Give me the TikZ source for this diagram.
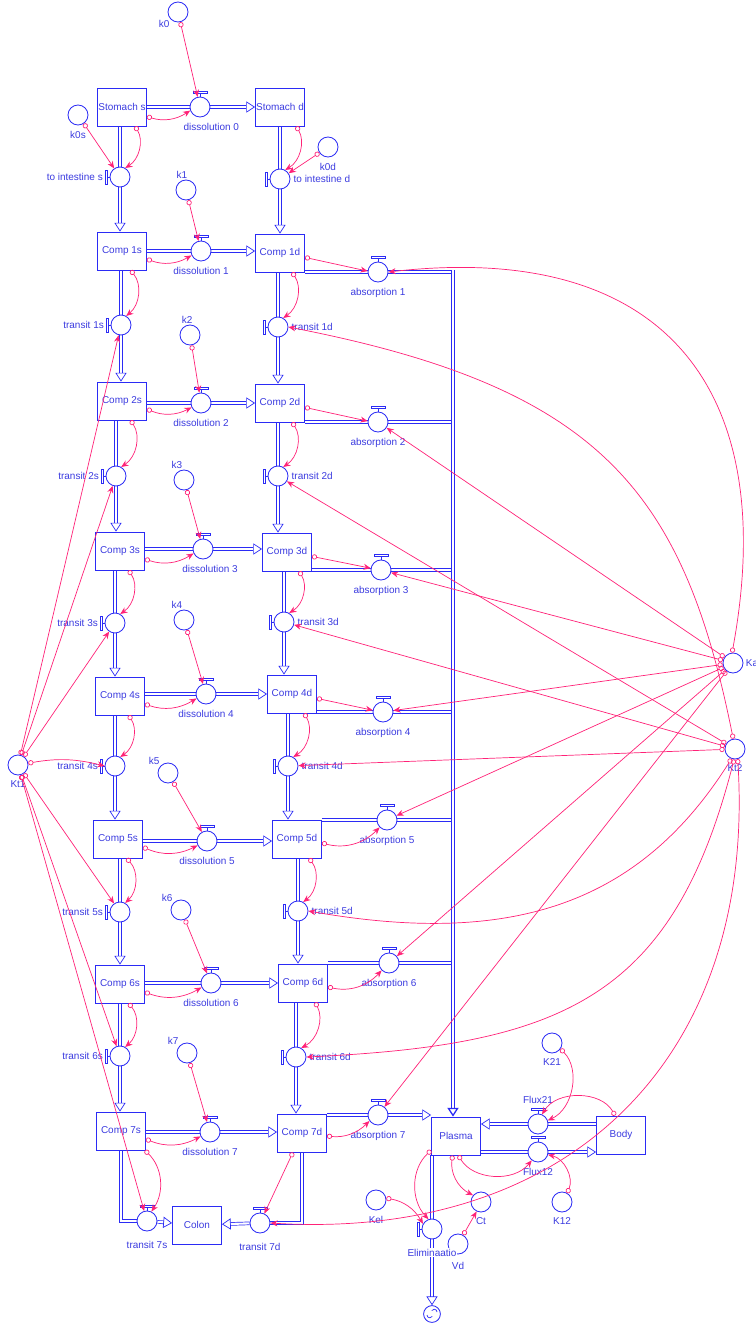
\documentclass[tikz,border=0pt]{standalone}
\usepackage{fontspec}
\newfontfamily\diagfont{Liberation Sans}
\usepackage{xcolor}
\definecolor{flowblue}{HTML}{2B2BF5}
\definecolor{tagblue}{HTML}{3B3BE0}
\definecolor{linkpink}{HTML}{FF2277}
\usetikzlibrary{arrows.meta,calc}
\newcommand{\tagfont}{\diagfont\fontsize{7.1}{8.5}\selectfont}
\pgfdeclarelayer{pipes}
\pgfsetlayers{pipes,main}
\tikzset{
  stock/.style={draw=flowblue, line width=0.6pt, fill=white, minimum width=1.225cm, minimum height=0.95cm, inner sep=0pt, text=tagblue, font=\tagfont},
  valve/.style={circle, draw=flowblue, line width=0.6pt, fill=white, minimum size=0.5cm, inner sep=0pt},
  aux/.style={valve},
  sinkc/.style={circle, draw=flowblue, line width=0.6pt, fill=white, minimum size=0.42cm, inner sep=0pt},
  tag/.style={text=tagblue, font=\tagfont, inner sep=0.6pt, fill=white},
  tagL/.style={label={[tag, label distance=4pt]left:#1}},
  tagR/.style={label={[tag, label distance=1.5pt]right:#1}},
  tagB/.style={label={[tag, label distance=3pt]below:#1}},
  tagA/.style={label={[tag, label distance=1pt]above:#1}},
  pipe/.style={draw=flowblue, line width=0.5pt, double=white, double distance=1.5pt},
  pipeto/.style={pipe, -{Triangle[open, length=2.2mm, width=2.8mm]}},
  link/.style={draw=linkpink, line width=0.5pt, {Circle[open, length=1.3mm]}-{Stealth[length=1.8mm, width=1.5mm]}},
  hdl/.style={draw=flowblue, line width=0.5pt, fill=white},
}
% valve handles
\newcommand{\tophandle}[1]{\draw[hdl] ([shift={(0,-10)}]#1.center) -- ([shift={(0,-14)}]#1.center);
  \draw[hdl] ([shift={(-7,-16)}]#1.center) rectangle ([shift={(7,-14)}]#1.center);}
\newcommand{\lefthandle}[1]{\draw[hdl] ([shift={(-10,0)}]#1.center) -- ([shift={(-13,0)}]#1.center);
  \draw[hdl] ([shift={(-15,-7)}]#1.center) rectangle ([shift={(-13,7)}]#1.center);}

\begin{document}
\begin{tikzpicture}[x=0.025cm, y=-0.025cm]
  \useasboundingbox (0,0) rectangle (756,1324);

  % stocks
  \node[stock] (Ss) at (122,107) {Stomach s};
  \node[stock] (Sd) at (280,107) {Stomach d};
  \node[stock] (C1s) at (122,251) {Comp 1s};
  \node[stock] (C1d) at (280,253) {Comp 1d};
  \node[stock] (C2s) at (122,401) {Comp 2s};
  \node[stock] (C2d) at (280,403) {Comp 2d};
  \node[stock] (C3s) at (120,551) {Comp 3s};
  \node[stock] (C3d) at (287,552) {Comp 3d};
  \node[stock] (C4s) at (120,696) {Comp 4s};
  \node[stock] (C4d) at (292,694) {Comp 4d};
  \node[stock] (C5s) at (118,839) {Comp 5s};
  \node[stock] (C5d) at (297,839) {Comp 5d};
  \node[stock] (C6s) at (120,984) {Comp 6s};
  \node[stock] (C6d) at (303,983) {Comp 6d};
  \node[stock] (C7s) at (121,1131) {Comp 7s};
  \node[stock] (C7d) at (302,1133) {Comp 7d};
  \node[stock] (Plasma) at (456,1136) {Plasma};
  \node[stock] (Body) at (621,1135) {Body};
  \node[stock] (Colon) at (197,1225) {Colon};

  % converters
  \node[aux, label={[tag]below left:k0}] (k0) at (178,12) {};
  \node[aux, tagB=k0s] (k0s) at (78,115) {};
  \node[aux, tagB=k0d] (k0d) at (328,147) {};
  \node[aux, label={[tag, xshift=-3pt]above:k1}] (k1) at (186,190) {};
  \node[aux, label={[tag, xshift=-2pt]above:k2}] (k2) at (190,335) {};
  \node[aux, label={[tag, xshift=-5pt]above:k3}] (k3) at (184,480) {};
  \node[aux, label={[tag, xshift=-5pt]above:k4}] (k4) at (184,620) {};
  \node[aux, label={[tag]above left:k5}] (k5) at (168,773) {};
  \node[aux, label={[tag]above left:k6}] (k6) at (181,910) {};
  \node[aux, label={[tag]above left:k7}] (k7) at (187,1053) {};
  \node[aux, label={[tag, label distance=3pt]below:Kt1}] (Kt1) at (18,765) {};
  \node[aux, label={[tag, label distance=1pt]right:Ka}] (Ka) at (733,663) {};
  \node[aux, label={[tag, label distance=3pt]below:Kt2}] (Kt2) at (735,749) {};
  \node[aux, tagB=K21] (K21) at (552,1043) {};
  \node[aux, tagB=K12] (K12) at (562,1202) {};
  \node[aux, tagB=Ct] (Ct) at (481,1202) {};
  \node[aux, tagB=Kel] (Kel) at (376,1200) {};
  \node[aux, label={[tag, label distance=5pt]below:Vd}] (Vd) at (458,1244) {};

  % flows
  \node[valve, label={[tag, label distance=3pt, xshift=8pt]below:dissolution 0}] (D0) at (200,107) {};
  \node[valve, tagL=to intestine s] (Tis) at (120,177) {};
  \node[valve, tagR=to intestine d] (Tid) at (280,179) {};
  \node[valve, tagB=dissolution 1] (D1) at (201,251) {};
  \node[valve, tagL=transit 1s] (T1s) at (121,325) {};
  \node[valve, tagR=transit 1d] (T1d) at (278,327) {};
  \node[valve, tagB=absorption 1] (A1) at (378,272) {};
  \node[valve, tagB=dissolution 2] (D2) at (201,403) {};
  \node[valve, tagL=transit 2s] (T2s) at (116,476) {};
  \node[valve, tagR=transit 2d] (T2d) at (278,476) {};
  \node[valve, tagB=absorption 2] (A2) at (378,422) {};
  \node[valve, label={[tag, label distance=3pt, xshift=5pt]below:dissolution 3}] (D3) at (203,549) {};
  \node[valve, tagL=transit 3s] (T3s) at (115,623) {};
  \node[valve, tagR=transit 3d] (T3d) at (284,622) {};
  \node[valve, tagB=absorption 3] (A3) at (381,570) {};
  \node[valve, tagB=dissolution 4] (D4) at (206,694) {};
  \node[valve, tagL=transit 4s] (T4s) at (115,766) {};
  \node[valve, tagR=transit 4d] (T4d) at (288,766) {};
  \node[valve, tagB=absorption 4] (A4) at (383,712) {};
  \node[valve, tagB=dissolution 5] (D5) at (207,841) {};
  \node[valve, tagL=transit 5s] (T5s) at (120,912) {};
  \node[valve, tagR=transit 5d] (T5d) at (298,911) {};
  \node[valve, tagB=absorption 5] (A5) at (387,820) {};
  \node[valve, tagB=dissolution 6] (D6) at (211,983) {};
  \node[valve, tagL=transit 6s] (T6s) at (120,1056) {};
  \node[valve, tagR=transit 6d] (T6d) at (296,1057) {};
  \node[valve, tagB=absorption 6] (A6) at (389,963) {};
  \node[valve, tagB=dissolution 7] (D7) at (210,1132) {};
  \node[valve, label={[tag, label distance=6pt]below:transit 7s}] (T7s) at (147,1221) {};
  \node[valve, label={[tag, label distance=6pt]below:transit 7d}] (T7d) at (260,1223) {};
  \node[valve, tagB=absorption 7] (A7) at (378,1115) {};
  \node[valve, label={[tag, label distance=6pt]above:Flux21}] (Flux21) at (538,1124) {};
  \node[valve, tagB=Flux12] (Flux12) at (538,1152) {};
  \node[valve, label={[tag, label distance=6pt]below:Eliminaatio}] (Elim) at (432,1229) {};
  \node[sinkc] (sink) at (432,1314) {};
  \draw[flowblue, line width=0.5pt] ([shift={(-5,1)}]sink.center) arc[start angle=180, end angle=330, radius=0.07cm]
    ([shift={(5,-2)}]sink.center) arc[start angle=0, end angle=150, radius=0.07cm];
  \coordinate (bus) at (453,270);

  \tophandle{D0} \tophandle{D1} \tophandle{D2} \tophandle{D3} \tophandle{D4} \tophandle{D5} \tophandle{D6} \tophandle{D7}
  \tophandle{A1} \tophandle{A2} \tophandle{A3} \tophandle{A4} \tophandle{A5} \tophandle{A6} \tophandle{A7}
  \tophandle{T7s} \tophandle{T7d} \tophandle{Flux21} \tophandle{Flux12}
  \lefthandle{Tis} \lefthandle{Tid} \lefthandle{Elim}
  \lefthandle{T1s} \lefthandle{T2s} \lefthandle{T3s} \lefthandle{T4s} \lefthandle{T5s} \lefthandle{T6s}
  \lefthandle{T1d} \lefthandle{T2d} \lefthandle{T3d} \lefthandle{T4d} \lefthandle{T5d} \lefthandle{T6d}

  % pipes
  \begin{pgfonlayer}{pipes}
  \draw[pipe] (Ss) -- (D0); \draw[pipeto] (D0) -- (Sd);
  \draw[pipe] (Tis |- Ss.south) -- (Tis); \draw[pipeto] (Tis) -- (Tis |- C1s.north);
  \draw[pipe] (Tid |- Sd.south) -- (Tid); \draw[pipeto] (Tid) -- (Tid |- C1d.north);
  \draw[pipe] (D1 -| C1s.east) -- (D1); \draw[pipeto] (D1) -- (D1 -| C1d.west);
  \draw[pipe] (D2 -| C2s.east) -- (D2); \draw[pipeto] (D2) -- (D2 -| C2d.west);
  \draw[pipe] (D3 -| C3s.east) -- (D3); \draw[pipeto] (D3) -- (D3 -| C3d.west);
  \draw[pipe] (D4 -| C4s.east) -- (D4); \draw[pipeto] (D4) -- (D4 -| C4d.west);
  \draw[pipe] (D5 -| C5s.east) -- (D5); \draw[pipeto] (D5) -- (D5 -| C5d.west);
  \draw[pipe] (D6 -| C6s.east) -- (D6); \draw[pipeto] (D6) -- (D6 -| C6d.west);
  \draw[pipe] (D7 -| C7s.east) -- (D7); \draw[pipeto] (D7) -- (D7 -| C7d.west);
  \draw[pipe] (T1s |- C1s.south) -- (T1s); \draw[pipeto] (T1s) -- (T1s |- C2s.north);
  \draw[pipe] (T2s |- C2s.south) -- (T2s); \draw[pipeto] (T2s) -- (T2s |- C3s.north);
  \draw[pipe] (T3s |- C3s.south) -- (T3s); \draw[pipeto] (T3s) -- (T3s |- C4s.north);
  \draw[pipe] (T4s |- C4s.south) -- (T4s); \draw[pipeto] (T4s) -- (T4s |- C5s.north);
  \draw[pipe] (T5s |- C5s.south) -- (T5s); \draw[pipeto] (T5s) -- (T5s |- C6s.north);
  \draw[pipe] (T6s |- C6s.south) -- (T6s); \draw[pipeto] (T6s) -- (T6s |- C7s.north);
  \draw[pipe] (T1d |- C1d.south) -- (T1d); \draw[pipeto] (T1d) -- (T1d |- C2d.north);
  \draw[pipe] (T2d |- C2d.south) -- (T2d); \draw[pipeto] (T2d) -- (T2d |- C3d.north);
  \draw[pipe] (T3d |- C3d.south) -- (T3d); \draw[pipeto] (T3d) -- (T3d |- C4d.north);
  \draw[pipe] (T4d |- C4d.south) -- (T4d); \draw[pipeto] (T4d) -- (T4d |- C5d.north);
  \draw[pipe] (T5d |- C5d.south) -- (T5d); \draw[pipeto] (T5d) -- (T5d |- C6d.north);
  \draw[pipe] (T6d |- C6d.south) -- (T6d); \draw[pipeto] (T6d) -- (T6d |- C7d.north);
  \draw[pipe] (C7s.south) -- (C7s.south |- T7s) -- (T7s); \draw[pipeto] (T7s) -- (Colon);
  \draw[pipe] (C7d.south) -- (C7d.south |- T7d) -- (T7d); \draw[pipeto] (T7d) -- (Colon);
  \draw[pipe] (C1d.east |- A1) -- (A1); \draw[pipe] (A1) -- (A1 -| bus);
  \draw[pipe] (C2d.east |- A2) -- (A2); \draw[pipe] (A2) -- (A2 -| bus);
  \draw[pipe] (C3d.east |- A3) -- (A3); \draw[pipe] (A3) -- (A3 -| bus);
  \draw[pipe] (C4d.east |- A4) -- (A4); \draw[pipe] (A4) -- (A4 -| bus);
  \draw[pipe] (C5d.east |- A5) -- (A5); \draw[pipe] (A5) -- (A5 -| bus);
  \draw[pipe] (C6d.east |- A6) -- (A6); \draw[pipe] (A6) -- (A6 -| bus);
  \draw[pipe] (C7d.east |- A7) -- (A7); \draw[pipeto] (A7) -- (A7 -| Plasma.west);
  \draw[pipeto, line width=0.9pt, double distance=1.6pt] (bus) -- (bus |- Plasma.north);
  \draw[pipe] (Body.west |- Flux21) -- (Flux21); \draw[pipeto] (Flux21) -- (Flux21 -| Plasma.east);
  \draw[pipe] (Plasma.east |- Flux12) -- (Flux12); \draw[pipeto] (Flux12) -- (Flux12 -| Body.west);
  \draw[pipe] (Elim |- Plasma.south) -- (Elim); \draw[pipeto] (Elim) -- (sink);
  \end{pgfonlayer}

  % connectors
  \draw[link] (k0) -- (D0); \draw[link] (Ss.-21) to[bend right=25] (D0.200);
  \draw[link] (Ss.-56) to[bend left=45] (Tis.60); \draw[link] (k0s) -- (Tis);
  \draw[link] (Sd.-50) to[bend left=45] (Tid.60); \draw[link] (k0d) -- (Tid);
  \draw[link] (k1) -- (D1); \draw[link] (C1s.-18) to[bend right=25] (D1.205);
  \draw[link] (k2) -- (D2); \draw[link] (C2s.-18) to[bend right=25] (D2.205);
  \draw[link] (k3) -- (D3); \draw[link] (C3s.-18) to[bend right=25] (D3.205);
  \draw[link] (k4) -- (D4); \draw[link] (C4s.-18) to[bend right=25] (D4.205);
  \draw[link] (k5) -- (D5); \draw[link] (C5s.-18) to[bend right=25] (D5.205);
  \draw[link] (k6) -- (D6); \draw[link] (C6s.-18) to[bend right=25] (D6.205);
  \draw[link] (k7) -- (D7); \draw[link] (C7s.-18) to[bend right=25] (D7.205);
  \draw[link] (C1s.-66) to[bend left=45] (T1s.60); \draw[link] (C2s.-66) to[bend left=45] (T2s.60);
  \draw[link] (C3s.-66) to[bend left=45] (T3s.60); \draw[link] (C4s.-66) to[bend left=45] (T4s.60);
  \draw[link] (C5s.-66) to[bend left=45] (T5s.60); \draw[link] (C6s.-66) to[bend left=45] (T6s.60);
  \draw[link] (C7s.-39) to[bend left=40] (T7s.65);
  \draw[link] (C1d.-58) to[bend left=45] (T1d.60); \draw[link] (C2d.-58) to[bend left=45] (T2d.60);
  \draw[link] (C3d.-58) to[bend left=45] (T3d.60); \draw[link] (C4d.-58) to[bend left=45] (T4d.60);
  \draw[link] (C5d.-58) to[bend left=45] (T5d.60); \draw[link] (C6d.-58) to[bend left=45] (T6d.60);
  \draw[link] (C7d) -- (T7d);
  \draw[link] (C1d.-10) -- (A1.175); \draw[link] (C2d.-10) -- (A2.175);
  \draw[link] (C3d.-10) -- (A3.170); \draw[link] (C4d.-10) -- (A4.170);
  \draw[link] (C5d.-9) to[bend right=30] (A5.225); \draw[link] (C6d.-9) to[bend right=30] (A6.225);
  \draw[link] (C7d.-7) to[bend right=25] (A7.215);
  \draw[link] (Kt1) -- (T1s); \draw[link] (Kt1) -- (T2s); \draw[link] (Kt1) -- (T3s);
  \draw[link] (Kt1.10) to[bend left=12] (T4s.180);
  \draw[link] (Kt1) -- (T5s); \draw[link] (Kt1) -- (T6s); \draw[link] (Kt1) -- (T7s);
  \draw[link] (Ka.95) .. controls (780,393) and (668,240) .. (A1.east);
  \draw[link] (Ka) -- (A2); \draw[link] (Ka) -- (A3); \draw[link] (Ka) -- (A4);
  \draw[link] (Ka) -- (A5); \draw[link] (Ka) -- (A6); \draw[link] (Ka) -- (A7);
  \draw[link] (Kt2.100) .. controls (683,488) and (597,387) .. (T1d.east);
  \draw[link] (Kt2) -- (T2d); \draw[link] (Kt2) -- (T3d); \draw[link] (Kt2) -- (T4d);
  \draw[link] (Kt2.-110) .. controls (638,907) and (508,946) .. (T5d.east);
  \draw[link] (Kt2.-95) .. controls (673,998) and (563,1045) .. (T6d.east);
  \draw[link] (Kt2.-75) .. controls (756,1058) and (570,1241) .. (T7d.east);
  \draw[link] (Plasma.210) to[bend right=45] (Elim.110); \draw[link] (Kel.10) to[bend left=25] (Elim.150);
  \draw[link] (Plasma.-100) to[bend right=35] (Ct.140); \draw[link] (Vd.60) -- (Ct.245);
  \draw[link] (Plasma.-83) to[bend right=55] (Flux12.233); \draw[link] (K12.60) to[bend right=50] (Flux12.-15);
  \draw[link] (K21.-35) to[bend left=55] (Flux21.20); \draw[link] (Body.107) to[bend right=60] (Flux21.67);
\end{tikzpicture}
\end{document}
